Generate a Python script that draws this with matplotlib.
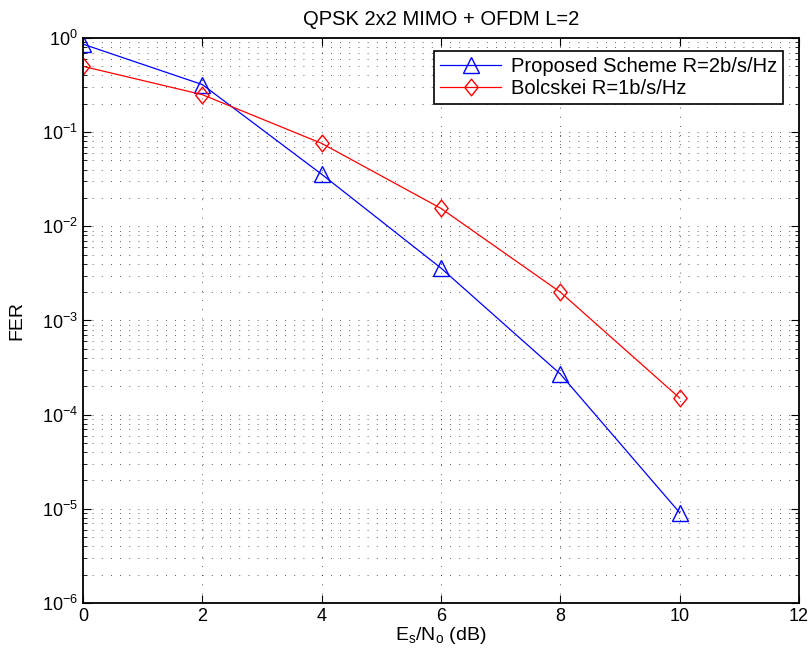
import matplotlib
matplotlib.use("Agg")
import matplotlib.pyplot as plt
import numpy as np
from matplotlib.ticker import LogLocator, NullFormatter
from matplotlib.path import Path

plt.rcParams['font.family'] = ['Liberation Sans', 'DejaVu Sans']
plt.rcParams['mathtext.fontset'] = 'custom'
plt.rcParams['mathtext.rm'] = 'Liberation Sans'
plt.rcParams['mathtext.it'] = 'Liberation Sans'
plt.rcParams['font.size'] = 13

# Es/No in dB
snr = [0, 2, 4, 6, 8, 10]
fer_proposed = [0.86, 0.32, 0.0357, 0.0036, 2.7e-4, 9.1e-6]
fer_bolcskei = [0.50, 0.25, 0.076, 0.0155, 0.002, 1.5e-4]
labels = ['Proposed Scheme R=2b/s/Hz', 'Bolcskei R=1b/s/Hz']

# matlab-like diamond, a bit taller than wide
diamond = Path([(0, 1), (0.8, 0), (0, -1), (-0.8, 0), (0, 1)],
               [Path.MOVETO, Path.LINETO, Path.LINETO, Path.LINETO, Path.CLOSEPOLY])

fig = plt.figure(figsize=(8.12, 6.57), dpi=100)
ax = fig.add_axes([0.1022, 0.0822, 0.8818, 0.86])

ax.semilogy(snr, fer_proposed, color='blue', lw=0.9, marker='^', ms=11,
            mfc='none', mec='blue', mew=1.0, label=labels[0])
ax.semilogy(snr, fer_bolcskei, color='red', lw=0.9, marker=diamond, ms=12,
            mfc='none', mec='red', mew=1.0, label=labels[1])

ax.set_xlim(0, 12)
ax.set_ylim(1e-6, 1)
ax.set_xticks(range(0, 13, 2))
ax.yaxis.set_major_locator(LogLocator(base=10, numticks=10))
ax.yaxis.set_minor_locator(LogLocator(base=10, subs=np.arange(2, 10), numticks=20))
ax.yaxis.set_minor_formatter(NullFormatter())

grid_style = dict(color='k', linestyle=(0, (1, 10)), linewidth=0.6, alpha=0.85)
ax.grid(True, which='major', axis='both', **grid_style)
ax.grid(True, which='minor', axis='y', **grid_style)

ax.tick_params(which='both', direction='in', top=True, right=True)
ax.tick_params(which='major', length=6, width=0.8)
ax.tick_params(which='minor', length=3, width=0.6)
for s in ax.spines.values():
    s.set_linewidth(1.3)

ax.set_title('QPSK 2x2 MIMO + OFDM L=2', fontsize=14.5, pad=9)
ax.set_xlabel(r'$\mathdefault{E_s/N_o}$ (dB)', fontsize=14, labelpad=0)
ax.set_ylabel('FER', fontsize=14, labelpad=12)

leg = ax.legend(loc='upper right', bbox_to_anchor=(0.978, 0.977), borderaxespad=0,
                fancybox=False, framealpha=1, edgecolor='k', handlelength=3.0,
                borderpad=0.3, labelspacing=0.15, handletextpad=0.5, fontsize=14.5)
leg.get_frame().set_linewidth(1.2)

fig.savefig('out.png', dpi=100)
